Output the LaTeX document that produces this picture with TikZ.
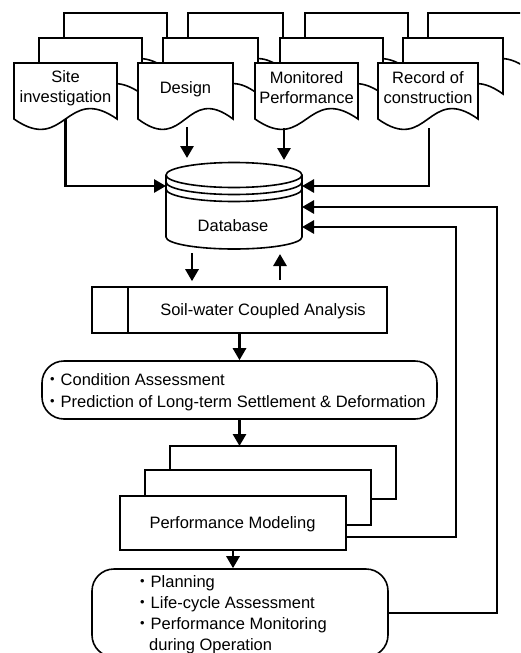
\documentclass[tikz,border=0pt]{standalone}
\usepackage{fontspec}
\setmainfont{Liberation Sans}
\newfontfamily\cjk{Noto Sans CJK JP}
\usetikzlibrary{arrows.meta}
\newcommand\docpage[3]{% left x, top y, width
  \draw[shp] (#1,#2) -- ({#1+#3},#2) -- ({#1+#3},{#2+56})
    .. controls ({#1+0.5*#3},{#2+56-36}) and ({#1+0.5*#3},{#2+56+36}) .. (#1,{#2+56}) -- cycle;}
\newcommand\docstack[2]{% left x of front page, width
  \docpage{#1+50}{13}{#2}\docpage{#1+25}{38}{#2}\docpage{#1}{63}{#2}}
\begin{document}
\begin{tikzpicture}[x=1pt,y=-1pt,
  shp/.style={draw=black, line width=1.6pt, fill=white},
  ln/.style={line width=1.6pt},
  conn/.style={line width=2.8pt, -{Triangle[length=12pt,width=13pt]}},
  lbl/.style={font=\fontsize{16.5}{20}\selectfont, align=center, inner sep=0pt},
  lst/.style={font=\fontsize{16.5}{#1}\selectfont, align=left, inner sep=0pt, anchor=north west},
  area/.style={inner sep=0pt, outer sep=0pt, minimum width=#1},
  ]
\useasboundingbox (0,0) rectangle (520,653);
\clip (0,0) rectangle (520,653);

% ---- document stacks ----
\docstack{14}{103}
\docstack{138}{95}
\docstack{255}{103}
\docstack{378}{100}
\node[area=103, minimum height=56, anchor=north west] (sitebox) at (14,63) {};
\node[area=95,  minimum height=56, anchor=north west] (designbox) at (138,63) {};
\node[area=103, minimum height=56, anchor=north west] (monbox) at (255,63) {};
\node[area=100, minimum height=56, anchor=north west] (recbox) at (378,63) {};
\node[lbl, anchor=north] (sitet) at (65.5,70) {Site\\investigation};
\node[lbl, anchor=base] (designt) at (185.5,93) {Design};
\node[lbl, anchor=north] (mont) at (306.5,71) {Monitored\\Performance};
\node[lbl, anchor=north] (rect) at (428,71) {Record of\\construction};

% ---- database ----
\node[area=136, minimum height=88] (db) at (234,206) {};
\draw[shp] (166,175) -- (166,237) arc[start angle=180, end angle=0, x radius=68, y radius=12]
  -- (302,175) arc[start angle=0, end angle=-180, x radius=68, y radius=12.5] -- cycle;
\draw[ln] (166,175) arc[start angle=180, end angle=0, x radius=68, y radius=12.5];
\draw[ln] (166,182) arc[start angle=180, end angle=0, x radius=68, y radius=12.5];
\draw[ln] (166,189) arc[start angle=180, end angle=0, x radius=68, y radius=12.5];
\node[lbl, anchor=base] (dbt) at (233,231) {Database};
\coordinate (dbL) at (166,186);
\coordinate (dbR1) at (302,186);
\coordinate (dbR2) at (302,207);
\coordinate (dbR3) at (302,227);

% ---- soil-water analysis ----
\node[shp, minimum width=295, minimum height=46, inner sep=0pt] (soil) at (239.5,310) {};
\draw[ln] (128,287) -- (128,333);
\node[lbl, anchor=base] (soilt) at (263,315) {Soil-water Coupled Analysis};

% ---- condition assessment ----
\node[shp, rounded corners=22pt, minimum width=395, minimum height=58, inner sep=0pt] (cond) at (239.5,390) {};
\node[lst=22] (condt) at (44,373) {{\cjk ・}Condition Assessment\\{\cjk ・}Prediction of Long-term Settlement \& Deformation};

% ---- performance modeling ----
\draw[shp] (170,446) rectangle (396,499);
\draw[shp] (145,470) rectangle (371,525);
\node[shp, minimum width=226, minimum height=54, inner sep=0pt] (perf) at (233,523) {};
\node[lbl, anchor=base] (perft) at (232.5,528) {Performance Modeling};

% ---- planning ----
\node[shp, rounded corners=22pt, minimum width=296, minimum height=88, inner sep=0pt] (plan) at (240,613) {};
\node[lst=21] (plant) at (134,575) {{\cjk ・}Planning\\{\cjk ・}Life-cycle Assessment\\{\cjk ・}Performance Monitoring\\\hspace*{15pt}during Operation};

% ---- connectors ----
\coordinate (fb1) at (456,227);
\coordinate (fb2) at (497,207);
\draw[conn] (sitebox.south) |- (dbL);
\draw[conn, shorten >=4pt] ([xshift=1.5pt,yshift=-8pt]designbox.south) -- ([xshift=1.5pt]designbox.south |- db.north);
\draw[conn, shorten >=2pt] ([xshift=-22.5pt,yshift=-9pt]monbox.south) -- ([xshift=-22.5pt]monbox.south |- db.north);
\draw[conn] ([xshift=1pt,yshift=-9pt]recbox.south) |- (dbR1);
\draw[conn] ([yshift=-14pt]perf.east) -| (fb1) -- (dbR3);
\draw[conn] (plan.east) -| (fb2) -- (dbR2);
\draw[conn, shorten <=3pt, shorten >=5pt] ([xshift=-47.5pt]soil.north |- db.south) -- ([xshift=-47.5pt]soil.north);
\draw[conn, shorten <=6pt, shorten >=4pt] ([xshift=40.5pt]soil.north) -- ([xshift=40.5pt]soil.north |- db.south);
\draw[conn] (soil.south) -- (cond.north);
\draw[conn] (cond.south) -- (cond.south |- 0,446);
\draw[conn] (perf.south) -- (perf.south |- plan.north);
\end{tikzpicture}
\end{document}
